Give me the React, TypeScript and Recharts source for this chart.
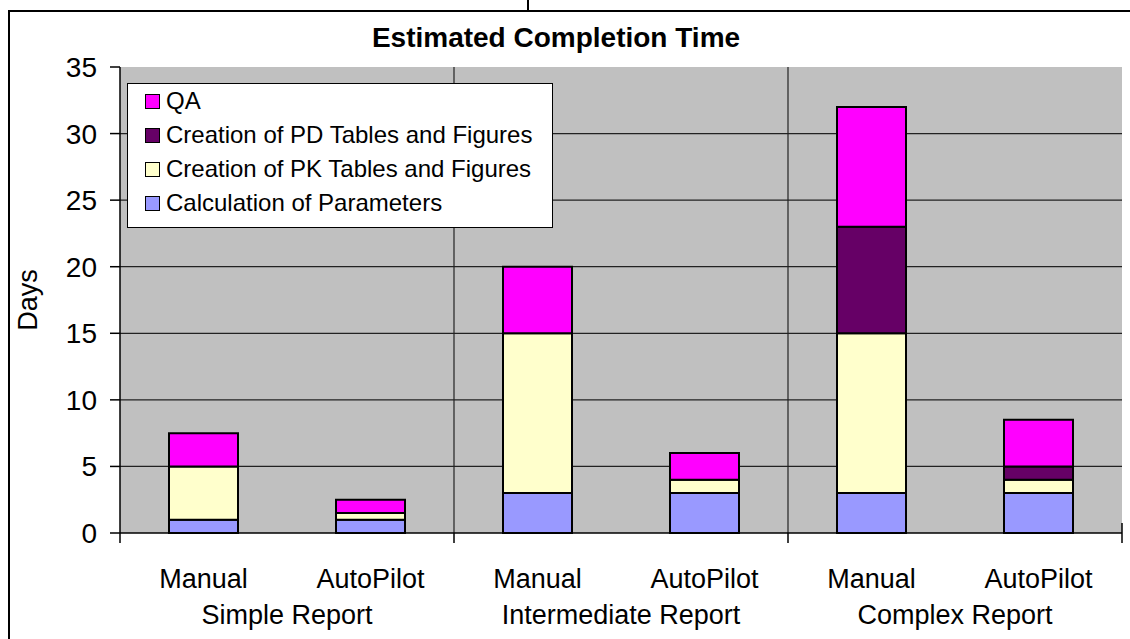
import React from 'react';
import { BarChart, Bar, XAxis, YAxis, CartesianGrid, Legend } from 'recharts';

const categories = ['Manual', 'AutoPilot', 'Manual', 'AutoPilot', 'Manual', 'AutoPilot'];
const groups = ['Simple Report', 'Intermediate Report', 'Complex Report'];
const calcParams = [1, 1, 3, 3, 3, 3];
const pkTables = [4, 0.5, 12, 1, 12, 1];
const pdTables = [0, 0, 0, 0, 8, 1];
const qaDays = [2.5, 1, 5, 2, 9, 3.5];
const yTicks = [0, 5, 10, 15, 20, 25, 30, 35];

const series = [
    { key: 'calc', name: 'Calculation of Parameters', color: '#9999FF' },
    { key: 'pk', name: 'Creation of PK Tables and Figures', color: '#FFFFCC' },
    { key: 'pd', name: 'Creation of PD Tables and Figures', color: '#660066' },
    { key: 'qa', name: 'QA', color: '#FF00FF' },
];

const data = categories.map((c, i) => ({
    name: `${groups[Math.floor(i / 2)]} ${c}`,
    calc: calcParams[i],
    pk: pkTables[i],
    pd: pdTables[i],
    qa: qaDays[i],
}));

const yMax = yTicks[yTicks.length - 1];

// gridlines only between 0 and 35, plot edges are left bare
const horizontalLines = ({ offset }: any) =>
    yTicks.slice(1, -1).map(v => offset.top + offset.height * (1 - v / yMax));

// separators between the report groups
const groupLines = ({ offset }: any) =>
    groups.slice(1).map((_, g) => offset.left + (offset.width * (g + 1)) / groups.length);

const CategoryTick = (props: any) => {
    const { x, y, index, payload, width } = props;
    const half = payload && payload.offset > 5 ? payload.offset : width / categories.length / 2;
    const first = index % 2 === 0;
    return (
        <g>
            <text x={x} y={y + 55} textAnchor="middle" fontSize={27} fill="#000">{categories[index]}</text>
            {first && (
                <text x={x + half} y={y + 91} textAnchor="middle" fontSize={27} fill="#000">{groups[index / 2]}</text>
            )}
            {first && <line x1={x - half} x2={x - half} y1={y} y2={y + 10} stroke="#000" strokeWidth={1.5} />}
            {index === categories.length - 1 && (
                <line x1={x + half} x2={x + half} y1={y - 10} y2={y + 10} stroke="#000" strokeWidth={1.5} />
            )}
        </g>
    );
};

const renderLegend = () => (
    <div style={{ background: '#fff', border: '1.5px solid #000', width: 426, height: 145, boxSizing: 'border-box' }}>
        {[...series].reverse().map(s => (
            <div key={s.key} style={{ display: 'flex', alignItems: 'center', height: 34, paddingLeft: 17 }}>
                <span style={{ width: 15, height: 15, background: s.color, border: '1.5px solid #000', boxSizing: 'border-box', marginRight: 6 }} />
                <span style={{ fontSize: 24, color: '#000', whiteSpace: 'nowrap' }}>{s.name}</span>
            </div>
        ))}
    </div>
);

export default function App() {
    return (
        <div style={{ position: 'absolute', left: 0, top: 0, width: 1130, height: 639, background: '#fff', fontFamily: '"Liberation Sans", Arial, sans-serif', overflow: 'hidden' }}>
            <div style={{ position: 'absolute', left: 8, top: 10, right: -10, bottom: -10, borderLeft: '2px solid #000', borderTop: '2px solid #000' }} />
            <div style={{ position: 'absolute', left: 527, top: 0, width: 0, height: 10, borderLeft: '2px solid #000' }} />
            <div style={{ position: 'absolute', left: 256, top: 24, width: 600, textAlign: 'center', fontSize: 28, fontWeight: 'bold', lineHeight: '28px', color: '#000' }}>
                Estimated Completion Time
            </div>
            <BarChart width={1130} height={639} data={data} margin={{ top: 67, right: 8, bottom: 0, left: 0 }}>
                <CartesianGrid
                    fill="#C0C0C0"
                    fillOpacity={1}
                    stroke="#222"
                    strokeWidth={1.2}
                    horizontalCoordinatesGenerator={horizontalLines}
                    verticalCoordinatesGenerator={groupLines}
                />
                <XAxis
                    dataKey="name"
                    interval={0}
                    height={106}
                    tickLine={false}
                    tickSize={0}
                    tickMargin={0}
                    axisLine={{ stroke: '#000', strokeWidth: 1.5 }}
                    tick={<CategoryTick />}
                />
                <YAxis
                    width={120}
                    domain={[0, yMax]}
                    ticks={yTicks}
                    interval={0}
                    tickSize={10}
                    tickMargin={13}
                    tick={{ fontSize: 28, fill: '#000' }}
                    tickLine={{ stroke: '#000', strokeWidth: 1.5 }}
                    axisLine={{ stroke: '#000', strokeWidth: 1.5 }}
                    label={({ viewBox }: any) => {
                        const cx = viewBox.x + 28;
                        const cy = viewBox.y + viewBox.height / 2;
                        return (
                            <text x={cx} y={cy} transform={`rotate(-90, ${cx}, ${cy})`} textAnchor="middle" dominantBaseline="central" fontSize={27} fill="#000">
                                Days
                            </text>
                        );
                    }}
                />
                <Legend
                    layout="vertical"
                    align="center"
                    verticalAlign="middle"
                    content={renderLegend}
                    wrapperStyle={{ left: 127, top: 83, width: 426, height: 145 }}
                />
                {series.map(s => (
                    <Bar
                        key={s.key}
                        dataKey={s.key}
                        name={s.name}
                        stackId="a"
                        fill={s.color}
                        stroke="#000"
                        strokeWidth={2}
                        barSize={69}
                        isAnimationActive={false}
                    />
                ))}
            </BarChart>
        </div>
    );
}
